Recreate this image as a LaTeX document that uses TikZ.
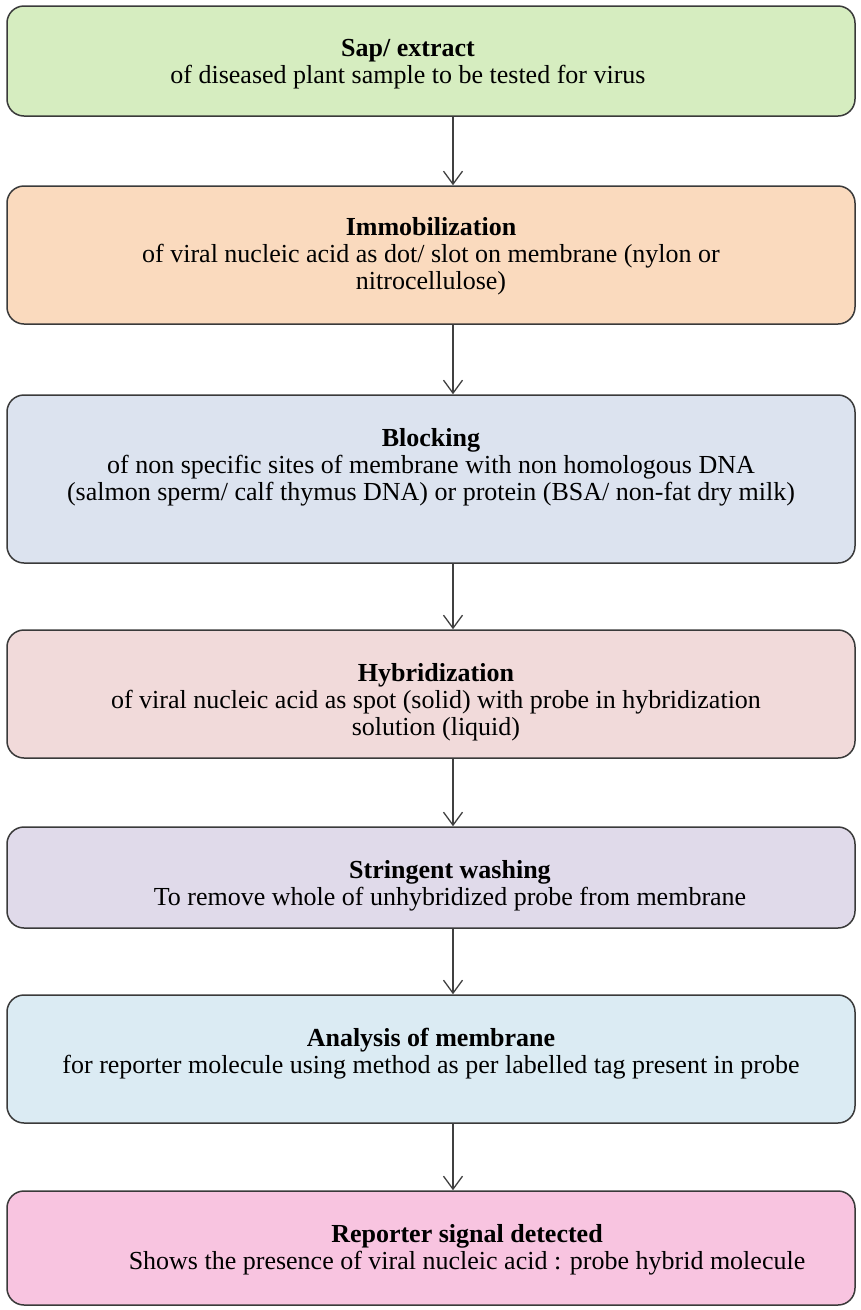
\documentclass[tikz,border=0pt]{standalone}
\usepackage{fontspec}
\setmainfont{Liberation Serif}
\usetikzlibrary{arrows.meta}

\definecolor{boxline}{RGB}{58,58,58}
\definecolor{arrowgray}{RGB}{64,64,64}
\definecolor{fillA}{RGB}{214,237,192}
\definecolor{fillB}{RGB}{250,218,190}
\definecolor{fillC}{RGB}{220,227,239}
\definecolor{fillD}{RGB}{241,218,218}
\definecolor{fillE}{RGB}{224,218,234}
\definecolor{fillF}{RGB}{219,235,243}
\definecolor{fillG}{RGB}{248,196,224}

\begin{document}
\begin{tikzpicture}[x=1pt,y=-1pt,
  stepbox/.style={draw=boxline, line width=1.5pt, rounded corners=17pt,
    minimum width=848pt, inner sep=0pt},
  steptext/.style={anchor=north, align=center, inner sep=0pt,
    font=\fontsize{26}{27}\selectfont},
  flow/.style={draw=arrowgray, line width=1.3pt,
    -{Straight Barb[length=13pt,width=19pt,line width=1.3pt]}}
]
\useasboundingbox (0,0) rectangle (860,1310);

% boxes: centre y and height
\node[stepbox, fill=fillA, minimum height=110pt] (b1) at (431,61) {};
\node[stepbox, fill=fillB, minimum height=138pt] (b2) at (431,255) {};
\node[stepbox, fill=fillC, minimum height=168pt] (b3) at (431,479) {};
\node[stepbox, fill=fillD, minimum height=128pt] (b4) at (431,694) {};
\node[stepbox, fill=fillE, minimum height=101pt] (b5) at (431,877.5) {};
\node[stepbox, fill=fillF, minimum height=128pt] (b6) at (431,1059) {};
\node[stepbox, fill=fillG, minimum height=114pt] (b7) at (431,1248) {};

% texts
\node[steptext] (t1) at (408,39) {\textbf{Sap/ extract}\\of diseased plant sample to be tested for virus};
\node[steptext] (t2) at (431,217) {\textbf{Immobilization}\\of viral nucleic acid as dot/ slot on membrane (nylon or\\nitrocellulose)};
\node[steptext] (t3) at (431,428) {\textbf{Blocking}\\of non specific sites of membrane with non homologous DNA\\(salmon sperm/ calf thymus DNA) or protein (BSA/ non-fat dry milk)};
\node[steptext] (t4) at (436,663) {\textbf{Hybridization}\\of viral nucleic acid as spot (solid) with probe in hybridization\\solution (liquid)};
\node[steptext] (t5) at (450,860) {\textbf{Stringent washing}\\To remove whole of unhybridized probe from membrane};
\node[steptext] (t6) at (431,1028) {\textbf{Analysis of membrane}\\for reporter molecule using method as per labelled tag present in probe};
\node[steptext] (t7) at (467,1224) {\textbf{Reporter signal detected}\\Shows the presence of viral nucleic acid : probe hybrid molecule};

% connectors
\coordinate (ax) at (453,0);
\draw[flow] (b1.south -| ax) -- (b2.north -| ax);
\draw[flow] (b2.south -| ax) -- (b3.north -| ax);
\draw[flow] (b3.south -| ax) -- (b4.north -| ax);
\draw[flow] (b4.south -| ax) -- (b5.north -| ax);
\draw[flow] (b5.south -| ax) -- (b6.north -| ax);
\draw[flow] (b6.south -| ax) -- (b7.north -| ax);
\end{tikzpicture}
\end{document}
